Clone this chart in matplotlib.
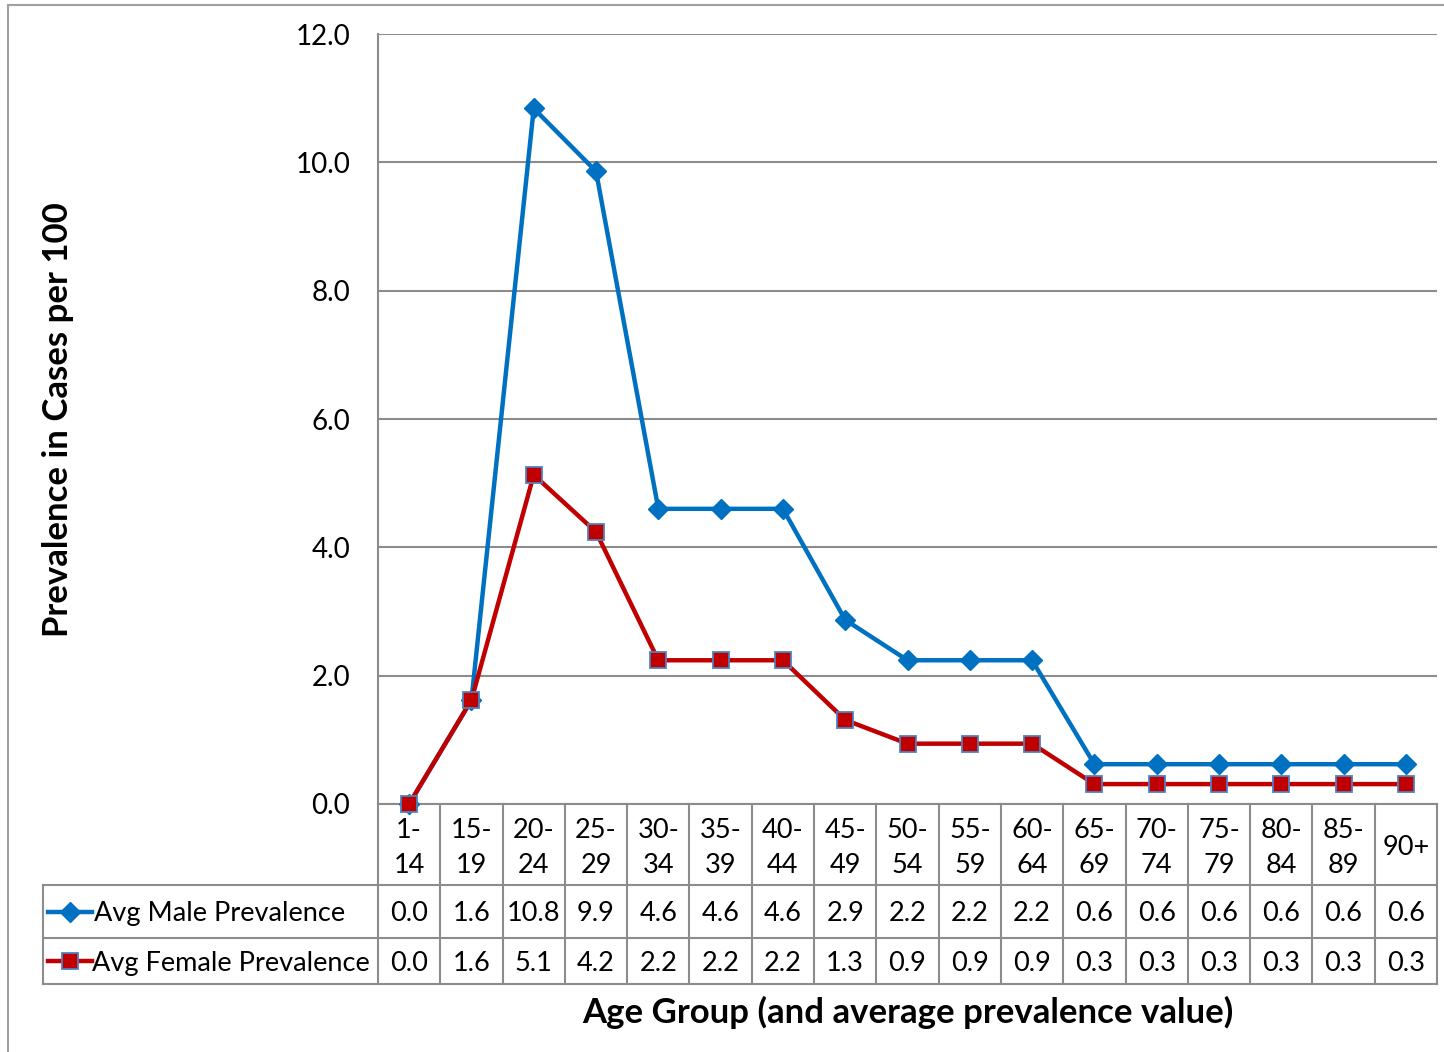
import matplotlib.pyplot as plt
from matplotlib.lines import Line2D
from matplotlib.patches import Rectangle

age_groups = ["1-\n14", "15-\n19", "20-\n24", "25-\n29", "30-\n34", "35-\n39", "40-\n44",
              "45-\n49", "50-\n54", "55-\n59", "60-\n64", "65-\n69", "70-\n74", "75-\n79",
              "80-\n84", "85-\n89", "90+"]
male = [0.0, 1.62, 10.84, 9.86, 4.6, 4.6, 4.6, 2.87, 2.24, 2.24, 2.24,
        0.62, 0.62, 0.62, 0.62, 0.62, 0.62]
female = [0.0, 1.62, 5.13, 4.24, 2.24, 2.24, 2.24, 1.31, 0.94, 0.94, 0.94,
          0.31, 0.31, 0.31, 0.31, 0.31, 0.31]
yticks = [0, 2, 4, 6, 8, 10, 12]

plt.rcParams['font.family'] = ['Lato', 'DejaVu Sans']

W, H = 1444, 1052
GRID = '#8c8c8c'
BLUE = '#0070C0'
RED = '#C00000'
FS = 19.5

fig = plt.figure(figsize=(W / 100, H / 100), dpi=100)
# outer chart border
fig.patches.append(Rectangle((8 / W, -0.01), 1.1, (H - 5) / H + 0.01, transform=fig.transFigure,
                             fill=False, edgecolor='#a0a0a0', lw=1.5))

x0, x1, ytop, ybot = 378, 1437, 34, 804
ax = fig.add_axes([x0 / W, (H - ybot) / H, (x1 - x0) / W, (ybot - ytop) / H])
n = len(age_groups)
xs = list(range(n))
ax.set_xlim(-0.5, n - 0.5)
ax.set_ylim(0, 12)
ax.set_yticks(yticks)
ax.set_yticklabels([f"{v:.1f}" for v in yticks], fontsize=20)
ax.tick_params(axis='y', length=0, pad=20)
ax.set_xticks([])
for s in ['top', 'right']:
    ax.spines[s].set_visible(False)
for s in ['left', 'bottom']:
    ax.spines[s].set_color(GRID)
    ax.spines[s].set_linewidth(1.5)
ax.grid(axis='y', color=GRID, lw=1.5)
ax.set_axisbelow(True)

ax.plot(xs, male, color=BLUE, lw=3.2, marker='D', ms=10, mfc=BLUE, mec=BLUE,
        clip_on=False, zorder=3)
ax.plot(xs, female, color=RED, lw=3.2, marker='s', ms=11, mfc=RED, mec='#4F81BD',
        mew=1.3, clip_on=False, zorder=4)

# data table under the plot
tr = ax.get_xaxis_transform()
ph = ybot - ytop
r_head = -(885 - ybot) / ph
r_male = -(938 - ybot) / ph
r_fem = -(984 - ybot) / ph
left_x = -0.5 - (x0 - 43) / (x1 - x0) * n
tbl = dict(color=GRID, lw=1.5, clip_on=False, transform=tr)
for i in range(n + 1):
    ax.add_line(Line2D([i - 0.5, i - 0.5], [0, r_fem], **tbl))
for r in (r_head, r_male, r_fem):
    ax.add_line(Line2D([left_x, n - 0.5], [r, r], **tbl))
ax.add_line(Line2D([left_x, left_x], [r_head, r_fem], **tbl))

for i in range(n):
    ax.text(i, r_head / 2 - 0.004, age_groups[i], transform=tr, ha='center', va='center',
            fontsize=FS, linespacing=1.5)
    ax.text(i, (r_head + r_male) / 2 - 0.003, f"{male[i]:.1f}", transform=tr,
            ha='center', va='center', fontsize=FS)
    ax.text(i, (r_male + r_fem) / 2 - 0.003, f"{female[i]:.1f}", transform=tr,
            ha='center', va='center', fontsize=FS)

# legend keys inside the table
ux = (x1 - x0) / n
kx0 = -0.5 - (x0 - 48) / ux
kx1 = -0.5 - (x0 - 92) / ux
ym = (r_head + r_male) / 2
yf = (r_male + r_fem) / 2
ax.add_line(Line2D([kx0, kx1], [ym, ym], color=BLUE, lw=3.2, transform=tr, clip_on=False))
ax.add_line(Line2D([(kx0 + kx1) / 2], [ym], color=BLUE, marker='D', ms=10, transform=tr,
                   clip_on=False))
ax.add_line(Line2D([kx0, kx1], [yf, yf], color=RED, lw=3.2, transform=tr, clip_on=False))
ax.add_line(Line2D([(kx0 + kx1) / 2], [yf], color=RED, marker='s', ms=11, mec='#4F81BD',
                   mew=1.3, transform=tr, clip_on=False))
ax.text(kx1 + 0.03, ym - 0.003, "Avg Male Prevalence", transform=tr, ha='left', va='center',
        fontsize=FS)
ax.text(kx1 + 0.0, yf - 0.003, "Avg Female Prevalence", transform=tr, ha='left', va='center',
        fontsize=FS)

fig.text(908 / W, 1 - 1012 / H, "Age Group (and average prevalence value)", ha='center',
         va='center', fontsize=25, fontweight='bold')
fig.text(58 / W, 1 - 420 / H, "Prevalence in Cases per 100", ha='center', va='center',
         rotation=90, fontsize=25, fontweight='bold')

fig.savefig('out.png', dpi=100)
